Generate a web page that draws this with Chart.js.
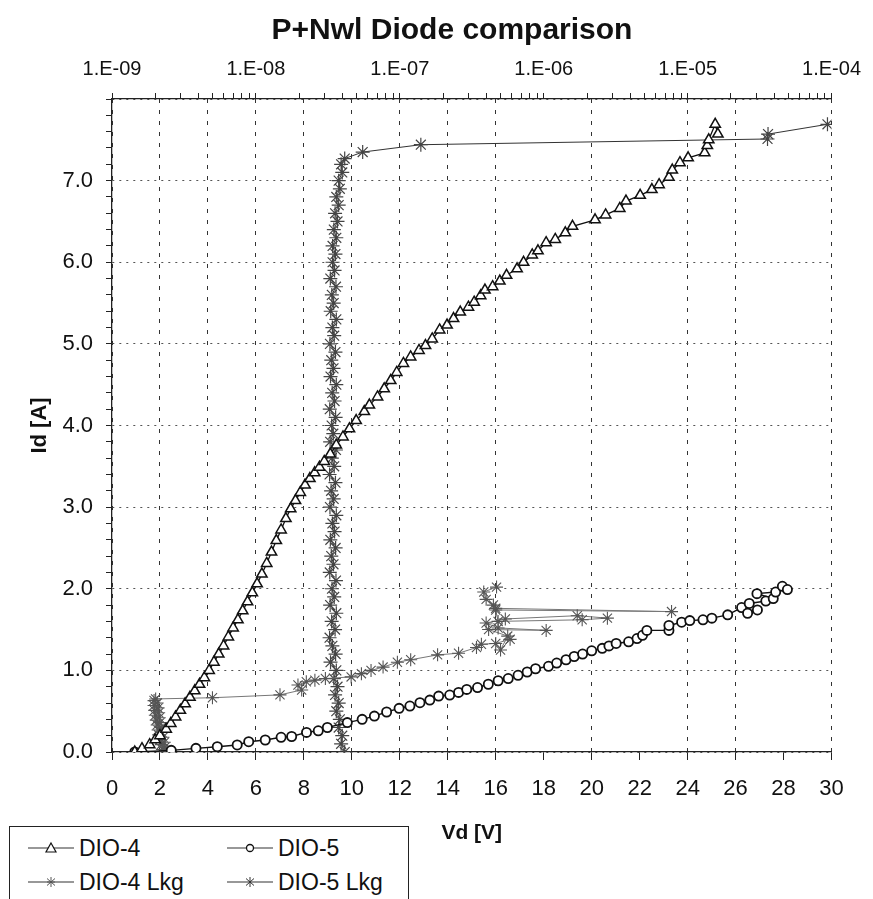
<!DOCTYPE html>
<html>
<head>
<meta charset="utf-8">
<script src="https://cdn.jsdelivr.net/npm/chart.js@4.4.1/dist/chart.umd.min.js"></script>
<style>
  body { margin: 0; background: #fff; overflow: hidden; }
  #wrap { position: relative; width: 873px; height: 899px; }
  #title { position: absolute; left: 0; top: 11px; width: 904px; text-align: center;
           font: bold 30px/36px 'Liberation Sans', Arial, sans-serif; color: #111; }
  #legend { position: absolute; left: 9px; top: 826px; width: 398px; height: 110px;
            border: 1.5px solid #222; background: #fff; font-family: 'Liberation Sans', Arial, sans-serif;
            font-size: 23px; color: #111; }
  .item { position: absolute; height: 28px; line-height: 28px; white-space: nowrap; }
  .item svg { position: absolute; left: 0; top: 7px; }
  .item span { position: absolute; left: 51px; top: 0; }
</style>
</head>
<body>
<div id="wrap">
  <canvas id="diode-chart" width="873" height="899"></canvas>
  <div id="title"></div>
  <div id="legend"></div>
</div>
<script>
const chartTitle = 'P+Nwl Diode comparison';
const seriesNames = ['DIO-4', 'DIO-5', 'DIO-4 Lkg', 'DIO-5 Lkg'];
const topTickLabels = ['1.E-09', '1.E-08', '1.E-07', '1.E-06', '1.E-05', '1.E-04'];

// DIO-4 forward curve (bottom axis, V)
const dio4Vd = [0.95,1.25,1.57,1.80,2.00,2.26,2.45,2.65,2.85,3.05,3.25,3.45,3.65,3.85,4.05,4.25,4.45,4.65,4.85,5.05,
  5.25,5.45,5.65,5.85,6.05,6.25,6.45,6.65,6.85,7.05,7.25,7.45,7.65,7.85,8.05,8.25,8.45,8.65,8.85,9.10,
  9.35,9.63,9.90,10.18,10.52,10.73,11.07,11.35,11.62,11.87,12.15,12.45,12.80,13.07,13.35,13.66,13.97,14.24,14.52,14.86,
  15.10,15.37,15.55,15.87,16.17,16.45,16.89,17.16,17.52,17.76,18.10,18.48,18.90,19.20,20.14,20.58,21.17,21.43,22.02,22.51,
  22.81,23.22,23.36,23.68,24.02,24.71,24.82,24.88,25.15,25.26];
const dio4Id = [0.00,0.04,0.09,0.15,0.20,0.28,0.35,0.43,0.51,0.59,0.67,0.75,0.83,0.91,1.00,1.10,1.20,1.30,1.41,1.52,
  1.62,1.73,1.84,1.95,2.06,2.18,2.31,2.45,2.59,2.72,2.86,2.98,3.08,3.18,3.27,3.35,3.42,3.49,3.56,3.65,
  3.76,3.86,3.96,4.06,4.17,4.25,4.35,4.45,4.55,4.65,4.76,4.84,4.92,4.98,5.06,5.17,5.23,5.31,5.39,5.45,
  5.51,5.59,5.66,5.70,5.77,5.84,5.92,6.00,6.09,6.14,6.24,6.28,6.36,6.44,6.52,6.58,6.66,6.75,6.82,6.89,
  6.95,7.04,7.13,7.22,7.28,7.34,7.43,7.50,7.69,7.57];

// DIO-5 forward curve (bottom axis, V)
const dio5Vd = [0.95,2.47,3.50,4.39,5.22,5.70,6.39,7.05,7.49,8.11,8.60,8.98,9.81,10.43,10.94,11.45,11.97,12.42,12.84,13.25,
  13.62,14.08,14.45,14.79,15.24,15.69,16.10,16.52,16.93,17.31,17.66,18.20,18.54,18.93,19.27,19.62,20.00,20.44,20.72,21.02,
  21.54,21.89,22.12,22.30,23.22,23.22,23.75,24.09,24.64,25.01,25.67,26.25,26.50,26.91,26.57,27.26,27.57,26.89,27.67,27.95,28.16];
const dio5Id = [0.00,0.02,0.045,0.065,0.086,0.126,0.147,0.18,0.19,0.24,0.26,0.30,0.36,0.40,0.44,0.49,0.535,0.563,0.604,0.636,
  0.685,0.698,0.73,0.767,0.79,0.83,0.873,0.90,0.94,0.98,1.02,1.05,1.09,1.13,1.17,1.20,1.24,1.27,1.30,1.33,
  1.35,1.39,1.43,1.49,1.49,1.55,1.59,1.61,1.62,1.64,1.68,1.77,1.70,1.74,1.82,1.85,1.88,1.94,1.96,2.03,1.99];

// DIO-4 leakage (top log axis)
const dio4LkgI = [2.37e-9,2.24e-9,2.33e-9,2.20e-9,2.31e-9,2.15e-9,2.26e-9,2.11e-9,2.22e-9,2.09e-9,2.20e-9,2.06e-9,
  2.15e-9,2.03e-9,2.13e-9,2.00e-9,2.11e-9,1.98e-9,2.09e-9,1.96e-9,2.06e-9,1.96e-9,2.01e-9,
  4.99e-9,1.47e-8,2.08e-8,1.96e-8,2.24e-8,2.57e-8,3.04e-8,4.59e-8,5.41e-8,6.31e-8,7.65e-8,9.62e-8,1.19e-7,1.83e-7,2.56e-7,
  3.41e-7,3.69e-7,4.64e-7,5.84e-7,5.01e-7,5.62e-7,4.14e-7,1.04e-6,4.82e-7,3.98e-7,5.41e-7,1.71e-6,2.77e-6,1.85e-6,4.82e-7,
  4.64e-7,7.73e-6,4.64e-7,4.47e-7,3.98e-7,3.83e-7,4.70e-7];
const dio4LkgId = [0.00,0.03,0.06,0.09,0.12,0.15,0.18,0.21,0.24,0.27,0.30,0.33,
  0.36,0.39,0.42,0.45,0.48,0.51,0.54,0.57,0.60,0.63,0.65,
  0.665,0.70,0.76,0.82,0.86,0.88,0.90,0.92,0.96,1.00,1.04,1.10,1.13,1.19,1.21,
  1.28,1.32,1.33,1.38,1.25,1.42,1.50,1.49,1.52,1.58,1.63,1.67,1.64,1.62,1.60,
  1.74,1.72,1.76,1.80,1.87,1.96,2.02];

// DIO-5 leakage (top log axis)
const dio5LkgI = [4.14e-8,3.91e-8,3.98e-8,3.76e-8,3.83e-8,3.62e-8,3.76e-8,3.55e-8,3.69e-8,3.48e-8,3.62e-8,
  3.30e-8,3.58e-8,3.40e-8,3.25e-8,3.55e-8,3.36e-8,3.62e-8,3.28e-8,3.50e-8,3.38e-8,
  3.60e-8,3.26e-8,3.46e-8,3.34e-8,3.58e-8,3.29e-8,3.52e-8,3.40e-8,3.62e-8,3.27e-8,
  3.47e-8,3.33e-8,3.57e-8,3.25e-8,3.50e-8,3.37e-8,3.60e-8,3.28e-8,3.45e-8,3.36e-8,
  3.58e-8,3.26e-8,3.52e-8,3.39e-8,3.62e-8,3.30e-8,3.46e-8,3.34e-8,3.57e-8,3.27e-8,
  3.50e-8,3.40e-8,3.62e-8,3.31e-8,3.47e-8,3.37e-8,3.60e-8,3.29e-8,3.52e-8,3.41e-8,3.57e-8,
  3.41e-8,3.62e-8,3.48e-8,3.69e-8,3.55e-8,3.76e-8,3.62e-8,3.83e-8,3.76e-8,3.98e-8,3.91e-8,4.14e-8,
  5.52e-8,1.40e-7,3.59e-5,3.62e-5,9.37e-5];
const dio5LkgId = [0.00,0.10,0.20,0.30,0.40,0.50,0.60,0.70,0.80,0.90,1.00,
  1.10,1.20,1.30,1.40,1.50,1.60,1.70,1.80,1.90,2.00,
  2.10,2.20,2.30,2.40,2.50,2.60,2.70,2.80,2.90,3.00,
  3.10,3.20,3.30,3.40,3.50,3.60,3.70,3.80,3.90,4.00,
  4.10,4.20,4.30,4.40,4.50,4.60,4.70,4.80,4.90,5.00,
  5.10,5.20,5.30,5.40,5.50,5.60,5.70,5.80,5.90,6.00,6.10,
  6.20,6.30,6.40,6.50,6.60,6.70,6.80,6.90,7.00,7.10,7.20,7.27,
  7.35,7.44,7.51,7.57,7.69];

const skipGrid = [18, 22, 28];
const font = "'Liberation Sans', Arial, sans-serif";

function pairs(xs, ys) {
  return xs.map((x, i) => ({x: x, y: ys[i]}));
}

document.getElementById('title').textContent = chartTitle;

const ctx = document.getElementById('diode-chart').getContext('2d');

const chart = new Chart(ctx, {
  type: 'scatter',
  data: {
    datasets: [{
      label: seriesNames[0],
      data: pairs(dio4Vd, dio4Id),
      xAxisID: 'x',
      showLine: true,
      borderColor: '#111',
      borderWidth: 1.3,
      pointStyle: 'triangle',
      pointRadius: 6,
      pointBorderColor: '#111',
      pointBorderWidth: 1.5,
      pointBackgroundColor: '#fff'
    }, {
      label: seriesNames[1],
      data: pairs(dio5Vd, dio5Id),
      xAxisID: 'x',
      showLine: true,
      borderColor: '#111',
      borderWidth: 1.4,
      pointStyle: 'circle',
      pointRadius: 4.6,
      pointBorderColor: '#111',
      pointBorderWidth: 1.8,
      pointBackgroundColor: '#fff'
    }, {
      label: seriesNames[2],
      data: pairs(dio4LkgI, dio4LkgId),
      xAxisID: 'x2',
      showLine: true,
      borderColor: '#777',
      borderWidth: 1,
      pointStyle: 'star',
      pointRadius: 6.5,
      pointBorderColor: '#555',
      pointBorderWidth: 1.1
    }, {
      label: seriesNames[3],
      data: pairs(dio5LkgI, dio5LkgId),
      xAxisID: 'x2',
      showLine: true,
      borderColor: '#333',
      borderWidth: 1,
      pointStyle: 'star',
      pointRadius: 7,
      pointBorderColor: '#444',
      pointBorderWidth: 1.2
    }]
  },
  options: {
    responsive: false,
    animation: false,
    layout: { padding: { left: 0, right: 35, top: 0, bottom: 0 } },
    plugins: {
      legend: { display: false },
      tooltip: { enabled: false },
      title: { display: false }
    },
    scales: {
      x: {
        type: 'linear',
        position: 'bottom',
        min: 0,
        max: 30,
        afterFit: (scale) => { scale.height = 147; },
        ticks: {
          stepSize: 2,
          autoSkip: false,
          maxRotation: 0,
          padding: 16,
          color: '#111',
          font: { family: font, size: 22 }
        },
        grid: {
          color: (c) => skipGrid.includes(c.tick && c.tick.value) ? 'rgba(0,0,0,0)' : '#333',
          lineWidth: 1,
          tickLength: 8,
          tickColor: '#222',
          tickBorderDash: []
        },
        border: { display: true, color: '#222', width: 1.3, dash: [4, 7] },
        title: {
          display: true,
          text: 'Vd [V]',
          color: '#111',
          font: { family: font, size: 21, weight: 'bold', lineHeight: 1.2 },
          padding: { top: 0, bottom: 53 }
        }
      },
      x2: {
        type: 'logarithmic',
        position: 'top',
        min: 1e-9,
        max: 1e-4,
        afterFit: (scale) => { scale.height = 99; },
        afterBuildTicks: (scale) => {
          const ticks = [];
          for (let e = -9; e < -4; e++) {
            for (let m = 1; m < 10; m++) {
              ticks.push({ value: m * Math.pow(10, e), major: m === 1 });
            }
          }
          ticks.push({ value: 1e-4, major: true });
          scale.ticks = ticks;
        },
        ticks: {
          autoSkip: false,
          maxRotation: 0,
          padding: 12,
          color: '#111',
          font: { family: font, size: 20 },
          callback: (value) => {
            const lg = Math.log10(value);
            if (Math.abs(lg - Math.round(lg)) < 1e-6) {
              return topTickLabels[Math.round(lg) + 9];
            }
            return '';
          }
        },
        grid: {
          drawOnChartArea: false,
          tickLength: 6,
          tickColor: '#222',
          tickBorderDash: []
        },
        border: { display: true, color: '#222', width: 1.3 }
      },
      y: {
        type: 'linear',
        position: 'left',
        min: 0,
        max: 8,
        afterFit: (scale) => { scale.width = 112; },
        ticks: {
          stepSize: 0.2,
          autoSkip: false,
          padding: 13,
          color: '#111',
          font: { family: font, size: 22 },
          callback: (value) => {
            if (Math.abs(value - Math.round(value)) < 1e-6 && Math.round(value) < 8) {
              return value.toFixed(1);
            }
            return '';
          }
        },
        grid: {
          color: (c) => {
            const v = c.tick ? c.tick.value : 0;
            return Math.abs(v - Math.round(v)) < 1e-6 ? '#555' : 'rgba(0,0,0,0)';
          },
          lineWidth: 1,
          tickLength: 6,
          tickColor: '#222',
          tickBorderDash: []
        },
        border: { display: true, color: '#222', width: 1.3, dash: [2, 5] },
        title: {
          display: true,
          text: 'Id [A]',
          color: '#111',
          font: { family: font, size: 22, weight: 'bold', lineHeight: 1.2 },
          padding: { top: 27, bottom: 0 }
        }
      }
    }
  }
});

// legend box drawn as HTML, two columns
const markerSvg = {
  'triangle': '<polygon points="23,2 28,11 18,11" fill="#fff" stroke="#111" stroke-width="1.2"/>',
  'circle': '<circle cx="23" cy="7" r="3.5" fill="#fff" stroke="#111" stroke-width="1.3"/>',
  'star4': '<g stroke="#555" stroke-width="1"><line x1="23" y1="2" x2="23" y2="12"/><line x1="19" y1="3.5" x2="27" y2="10.5"/><line x1="27" y1="3.5" x2="19" y2="10.5"/><line x1="19" y1="7" x2="27" y2="7"/></g>',
  'star5': '<g stroke="#333" stroke-width="1"><line x1="23" y1="2" x2="23" y2="12"/><line x1="19" y1="3.5" x2="27" y2="10.5"/><line x1="27" y1="3.5" x2="19" y2="10.5"/></g>'
};
const legendMarkers = ['triangle', 'circle', 'star4', 'star5'];
const legendPos = [[18, 7], [217, 7], [18, 41], [217, 41]];
const legendEl = document.getElementById('legend');
seriesNames.forEach((name, i) => {
  const div = document.createElement('div');
  div.className = 'item';
  div.style.left = legendPos[i][0] + 'px';
  div.style.top = legendPos[i][1] + 'px';
  div.innerHTML = '<svg width="46" height="14"><line x1="0" y1="7" x2="46" y2="7" stroke="#333" stroke-width="1.2"/>' +
    markerSvg[legendMarkers[i]] + '</svg><span>' + name + '</span>';
  legendEl.appendChild(div);
});
</script>
</body>
</html>
